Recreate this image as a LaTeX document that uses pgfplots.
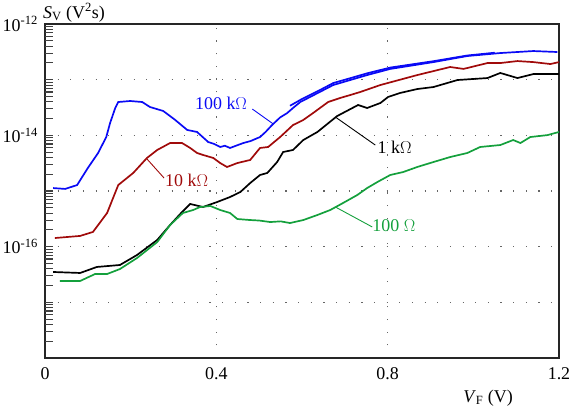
\documentclass[border=0pt]{standalone}
\usepackage{fontspec}
\setmainfont{Liberation Serif}
\usepackage{pgfplots}
\pgfplotsset{compat=1.18}
\definecolor{cblue}{RGB}{10,10,245}
\definecolor{cred}{RGB}{160,10,10}
\definecolor{cgreen}{RGB}{20,160,60}
\begin{document}
\fontsize{18}{21}\selectfont
\begin{tikzpicture}
\begin{axis}[name=ax, scale only axis, width=514bp, height=334bp, at={(0,0)}, anchor=south west,
  xmin=0, xmax=1.2, ymode=log, ymin=1e-18, ymax=1e-12,
  xtick={0,0.4,0.8,1.2}, xticklabels={0,0.4,0.8,1.2},
  ytick={1e-17,1e-16,1e-15,1e-14,1e-13,1e-12},
  yticklabels={,{10\textsuperscript{-16}},,{10\textsuperscript{-14}},,{10\textsuperscript{-12}}},
  /pgf/number format/assume math mode=true,
  ticklabel style={font=\fontsize{18}{21}\selectfont},
  xtick pos=bottom, ytick pos=left, tick align=inside,
  every x tick/.append style={draw opacity=0},
  every y tick/.append style={solid, draw=black!75, line width=0.9pt},
  major tick length=8bp,
  grid=major,
  major grid style={black!60, line width=1.2pt, dash pattern=on 1.2pt off 11.5pt},
  axis line style={solid, line width=1.5pt, black!85},
  xticklabel style={yshift=-3bp},
  yticklabel style={xshift=-1bp},
  clip=false,
]
% inward tick marks on the left axis (decades and 2..9 subdivisions), as horizontal combs from x=0
\addplot[xcomb, black!75, line width=1.1pt, mark=none, forget plot] coordinates {
(0.019,2e-18)(0.019,3e-18)(0.019,4e-18)(0.019,5e-18)(0.019,6e-18)(0.019,7e-18)(0.019,8e-18)(0.019,9e-18)(0.019,1e-17)
(0.019,2e-17)(0.019,3e-17)(0.019,4e-17)(0.019,5e-17)(0.019,6e-17)(0.019,7e-17)(0.019,8e-17)(0.019,9e-17)(0.019,1e-16)
(0.019,2e-16)(0.019,3e-16)(0.019,4e-16)(0.019,5e-16)(0.019,6e-16)(0.019,7e-16)(0.019,8e-16)(0.019,9e-16)(0.019,1e-15)
(0.019,2e-15)(0.019,3e-15)(0.019,4e-15)(0.019,5e-15)(0.019,6e-15)(0.019,7e-15)(0.019,8e-15)(0.019,9e-15)(0.019,1e-14)
(0.019,2e-14)(0.019,3e-14)(0.019,4e-14)(0.019,5e-14)(0.019,6e-14)(0.019,7e-14)(0.019,8e-14)(0.019,9e-14)(0.019,1e-13)
(0.019,2e-13)(0.019,3e-13)(0.019,4e-13)(0.019,5e-13)(0.019,6e-13)(0.019,7e-13)(0.019,8e-13)(0.019,9e-13)
};
% 100 kOhm (blue)
\addplot[cblue, line width=1.7pt] coordinates {
(0.019,1.13e-15)(0.047,1.09e-15)(0.075,1.28e-15)(0.100,2.59e-15)(0.124,4.82e-15)
(0.143,9.33e-15)(0.152,1.67e-14)(0.164,3.10e-14)(0.171,3.97e-14)(0.199,4.14e-14)
(0.227,3.97e-14)(0.245,3.23e-14)(0.276,2.74e-14)(0.304,1.89e-14)(0.332,1.25e-14)
(0.355,1.15e-14)(0.381,7.59e-15)(0.395,7.0e-15)(0.409,6.18e-15)(0.420,6.5e-15)(0.432,5.93e-15)
(0.448,6.6e-15)(0.463,7.28e-15)(0.480,7.9e-15)(0.502,9.33e-15)(0.515,1.15e-14)(0.530,1.53e-14)
(0.549,2.1e-14)(0.565,2.5e-14)(0.579,3.10e-14)(0.596,3.97e-14)(0.673,8.02e-14)(0.752,1.21e-13)
(0.806,1.56e-13)(0.907,2.07e-13)(0.986,2.66e-13)(1.063,3.01e-13)(1.140,3.27e-13)(1.196,3.14e-13)
};
\addplot[cblue, line width=1.7pt] coordinates {
(0.572,3.40e-14)(0.600,4.5e-14)(0.640,6.4e-14)(0.673,8.7e-14)(0.752,1.30e-13)(0.806,1.65e-13)(0.907,2.15e-13)(0.986,2.72e-13)(1.050,3.05e-13)
};
% 10 kOhm (red)
\addplot[cred, line width=1.7pt] coordinates {
(0.023,1.43e-16)(0.082,1.56e-16)(0.112,1.84e-16)(0.145,4.03e-16)(0.171,1.28e-15)
(0.206,2.11e-15)(0.238,3.92e-15)(0.262,5.46e-15)(0.292,7.28e-15)(0.320,7.28e-15)
(0.339,5.93e-15)(0.355,4.82e-15)(0.369,4.44e-15)(0.393,3.92e-15)(0.409,3.18e-15)
(0.425,2.70e-15)(0.449,3.18e-15)(0.479,3.61e-15)(0.502,5.93e-15)(0.521,6.18e-15)
(0.549,9.33e-15)(0.579,1.53e-14)(0.603,1.89e-14)(0.626,2.52e-14)(0.661,3.97e-14)
(0.689,4.69e-14)(0.713,5.31e-14)(0.736,6.01e-14)(0.783,8.02e-14)(0.869,1.21e-13)(0.946,1.69e-13)
(0.977,1.56e-13)(1.033,1.99e-13)(1.063,1.99e-13)(1.103,2.16e-13)(1.140,2.07e-13)
(1.180,1.91e-13)(1.200,2.07e-13)
};
% 1 kOhm (black)
\addplot[black, line width=1.7pt] coordinates {
(0.019,3.51e-17)(0.082,3.37e-17)(0.121,4.32e-17)(0.175,4.69e-17)(0.215,7.10e-17)
(0.262,1.32e-16)(0.292,2.45e-16)(0.320,4.20e-16)(0.339,5.85e-16)(0.369,5.16e-16)
(0.402,6.35e-16)(0.432,7.80e-16)(0.456,9.59e-16)(0.479,1.39e-15)(0.502,1.94e-15)
(0.519,2.11e-15)(0.542,3.32e-15)(0.556,5.02e-15)(0.579,5.46e-15)(0.603,8.24e-15)
(0.636,1.15e-14)(0.682,2.22e-14)(0.731,3.51e-14)(0.752,3.10e-14)(0.783,3.81e-14)
(0.801,4.89e-14)(0.829,5.77e-14)(0.869,6.79e-14)(0.907,7.38e-14)(0.963,9.86e-14)
(1.033,1.07e-13)(1.063,1.32e-13)(1.103,1.07e-13)(1.140,1.26e-13)(1.200,1.26e-13)
};
% 100 Ohm (green)
\addplot[cgreen, line width=1.7pt] coordinates {
(0.035,2.42e-17)(0.082,2.42e-17)(0.117,3.23e-17)(0.145,3.23e-17)(0.175,3.97e-17)
(0.215,6.27e-17)(0.262,1.21e-16)(0.292,2.45e-16)(0.322,4.03e-16)(0.346,4.56e-16)
(0.362,5.16e-16)(0.386,5.38e-16)(0.409,4.56e-16)(0.432,4.03e-16)(0.449,3.14e-16)
(0.479,3.01e-16)(0.500,2.95e-16)(0.526,2.77e-16)(0.550,2.85e-16)(0.572,2.66e-16)(0.603,3.01e-16)
(0.636,3.71e-16)(0.666,4.56e-16)(0.696,6.10e-16)(0.729,8.47e-16)(0.752,1.13e-15)
(0.776,1.45e-15)(0.806,1.94e-15)(0.836,2.19e-15)(0.869,2.70e-15)(0.907,3.32e-15)
(0.946,4.08e-15)(0.986,4.82e-15)(1.016,6.18e-15)(1.063,6.70e-15)(1.093,8.24e-15)
(1.110,7.28e-15)(1.133,9.33e-15)(1.173,1.01e-14)(1.200,1.15e-14)
};
% labels
\draw[cblue, line width=0.9pt] (axis cs:0.484,2.97e-14) -- (axis cs:0.533,1.60e-14);
\node[cblue] at (axis cs:0.411,3.81e-14) {100 k$\Omega$};
\draw[cred, line width=0.9pt] (axis cs:0.236,3.92e-15) -- (axis cs:0.278,1.71e-15);
\node[cred, anchor=west, inner sep=0pt] at (axis cs:0.280,1.58e-15) {10 k$\Omega$};
\draw[black, line width=0.9pt] (axis cs:0.678,2.13e-14) -- (axis cs:0.771,6.70e-15);
\node[black, anchor=west, inner sep=0pt] at (axis cs:0.776,6.18e-15) {1 k$\Omega$};
\draw[cgreen, line width=0.9pt] (axis cs:0.678,5.16e-16) -- (axis cs:0.764,2.26e-16);
\node[cgreen, anchor=west, inner sep=0pt] at (axis cs:0.764,2.35e-16) {100 $\Omega$};
\node[anchor=base west, inner sep=0pt] at ([shift={(-2bp,6bp)}]rel axis cs:0,1) {\textit{S}\textsubscript{V} (V\textsuperscript{2}s)};
\node[anchor=base east, inner sep=0pt] at ([shift={(-46bp,-44bp)}]rel axis cs:1,0) {\textit{V}\textsubscript{F} (V)};
\end{axis}
\pgfresetboundingbox
\path ([shift={(-45bp,-58bp)}]ax.south west) rectangle ++(573bp,416bp);
\end{tikzpicture}
\end{document}
